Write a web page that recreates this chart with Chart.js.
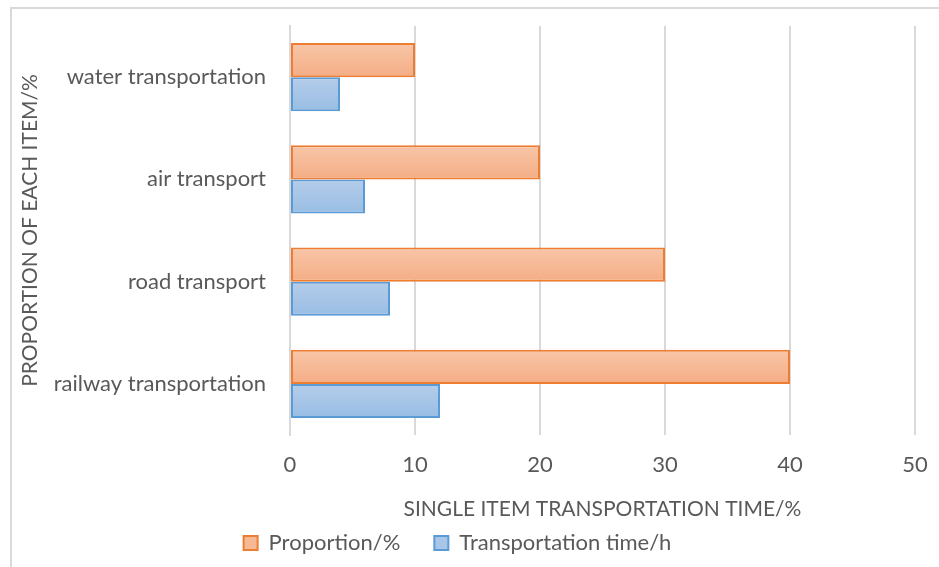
<!DOCTYPE html>
<html>
<head>
<meta charset="utf-8">
<script src="https://cdn.jsdelivr.net/npm/chart.js@4.4.1/dist/chart.umd.min.js"></script>
<style>
  html, body { margin: 0; padding: 0; background: #fff; }
  #wrap { position: relative; width: 939px; height: 567px; overflow: hidden; }
  #frame { position: absolute; left: 10px; top: 7px; right: -5px; bottom: -5px; border-top: 2px solid #d9d9d9; border-left: 2px solid #d9d9d9; }
  #c { position: absolute; left: 0; top: 0; }
</style>
</head>
<body>
<div id="wrap">
  <div id="frame"></div>
  <canvas id="c" width="939" height="567"></canvas>
</div>
<script>
var categories = ['water transportation', 'air transport', 'road transport', 'railway transportation'];
var proportion = [10, 20, 30, 40];
var transportTime = [4, 6, 8, 12];
var xTicks = [0, 10, 20, 30, 40, 50];

var TEXT = '#595959';
var FONT = 'Lato';

// vertical gradient per bar, from the category slot the bar sits in
function barFill(top, bottom, half) {
  return function (ctx) {
    var chart = ctx.chart;
    var y = chart.scales && chart.scales.y;
    if (!y || ctx.dataIndex == null) return top;
    var mid = y.getPixelForValue(ctx.dataIndex);
    var slot = y.height / categories.length * 0.667 / 2;
    if (!isFinite(mid) || !isFinite(slot) || slot <= 0) return top;
    var y0 = half === 0 ? mid - slot : mid;
    var g = chart.ctx.createLinearGradient(0, y0, 0, y0 + slot);
    g.addColorStop(0, top);
    g.addColorStop(1, bottom);
    return g;
  };
}

new Chart(document.getElementById('c'), {
  type: 'bar',
  data: {
    labels: categories,
    datasets: [
      { label: 'Proportion/%', data: proportion, backgroundColor: barFill('#f8c6a8', '#f4ad85', 0), borderColor: '#ed7d31', borderWidth: 2, borderSkipped: false },
      { label: 'Transportation time/h', data: transportTime, backgroundColor: barFill('#b5cdea', '#98bde4', 1), borderColor: '#5b9bd5', borderWidth: 2, borderSkipped: false }
    ]
  },
  options: {
    indexAxis: 'y',
    responsive: false,
    animation: false,
    layout: { padding: { top: 26, right: 24, left: 0, bottom: 9 } },
    datasets: { bar: { categoryPercentage: 0.667, barPercentage: 1 } },
    plugins: {
      tooltip: { enabled: false },
      legend: {
        position: 'bottom',
        maxHeight: 60,
        labels: {
          color: TEXT,
          font: { family: FONT, size: 22 },
          boxWidth: 14, boxHeight: 14, padding: 34,
          generateLabels: function (chart) {
            var flat = ['#f6b994', '#a8c6e8'];
            var strokes = ['#ed7d31', '#5b9bd5'];
            return chart.data.datasets.map(function (ds, i) {
              return { text: ds.label, fillStyle: flat[i], strokeStyle: strokes[i], lineWidth: 2, fontColor: TEXT, hidden: false, datasetIndex: i };
            });
          }
        }
      }
    },
    scales: {
      x: {
        min: 0, max: 50,
        afterBuildTicks: function (s) { s.ticks = xTicks.map(function (v) { return { value: v }; }); },
        afterFit: function (s) { s.height = 63; s.paddingLeft = 0; s.paddingRight = 0; },
        grid: { color: '#d9d9d9', lineWidth: 2, drawTicks: false },
        border: { display: false },
        ticks: { color: TEXT, font: { family: FONT, size: 22 }, padding: 17 },
        title: { display: true, text: 'SINGLE ITEM TRANSPORTATION TIME/%', color: TEXT, font: { family: FONT, size: 21 }, padding: { top: 0, bottom: -24 } }
      },
      y: {
        afterFit: function (s) { s.width = 290; s.paddingTop = 0; s.paddingBottom = 0; },
        grid: { display: false, drawTicks: false },
        border: { display: true, color: '#d9d9d9', width: 2 },
        ticks: { color: TEXT, font: { family: FONT, size: 22 }, padding: 24 },
        title: { display: true, text: 'PROPORTION OF EACH ITEM/%', color: TEXT, font: { family: FONT, size: 21 }, padding: { top: 18, bottom: 0 } }
      }
    }
  }
});
</script>
</body>
</html>
